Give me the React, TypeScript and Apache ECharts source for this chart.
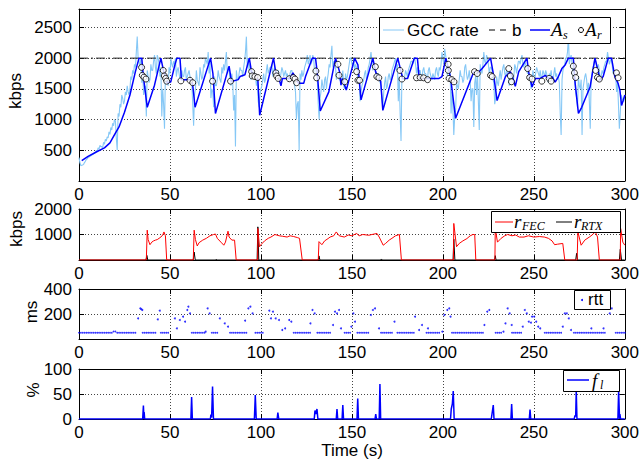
import React, { useEffect, useRef } from 'react';
import * as echarts from 'echarts';

const _ = null;

// GCC rate (kbps), one value per second, t = 0..300
const gccRate = [
  380,
  250, 260, 300, 350, 380, 400, 420, 440, 460, 480,
  520, 560, 540, 600, 650, 700, 760, 830, 900, 980,
  500, 1050, 1200, 1350, 1300, 1400, 1450, 1500, 1650, 1750,
  1850, 2350, 1950, 2000, 1800, 1500, 1050, 1700, 1650, 1800,
  1950, 1850, 2050, 1900, 1850, 1500, 850, 1600, 1550, 1750,
  1900, 1950, 2000, 1800, 1750, 1750, 1700, 1800, 1650, 1750,
  1700, 1600, 900, 1500, 1650, 1550, 1750, 1700, 1850, 1950,
  2100, 1950, 1500, 1200, 1550, 1650, 1700, 1600, 1750, 1800,
  2100, 1850, 1650, 1750, 1150, 560, 1650, 1750, 1800, 1700,
  1950, 2350, 2000, 1900, 1750, 1750, 1700, 1650, 1200, 1500,
  1650, 1600, 1800, 1750, 1850, 1900, 1800, 1750, 1800, 1700,
  1750, 1800, 1750, 1700, 1650, 1750, 1800, 1650, 1450, 1250,
  500, 1650, 1700, 1850, 1950, 1900, 2050, 1950, 2000, 1850,
  1650, 1000, 1450, 1550, 1650, 1500, 1750, 1850, 2200, 1950,
  1850, 1750, 1650, 1600, 1800, 1500, 1650, 1800, 2000, 1900,
  2000, 1900, 1750, 1650, 1450, 1600, 1750, 1650, 1850, 2000,
  1950, 1900, 1800, 1750, 1700, 1550, 1200, 1600, 1500, 1700,
  1650, 1800, 1900, 2000, 1900, 1700, 650, 1650, 1700, 1750,
  1800, 1900, 1950, 2000, 1900, 1850, 1800, 1700, 1800, 1750,
  1700, 1800, 1750, 1650, 1700, 1800, 1750, 1850, 1900, 2000,
  2150, 1950, 1850, 1750, 1450, 750, 1150, 1550, 1650, 1700,
  1600, 1850, 1750, 1700, 1650, 1500, 880, 1700, 1750, 830,
  1800, 1900, 1950, 2050, 1900, 1850, 1800, 1600, 1350, 1600,
  1700, 1650, 1850, 1750, 1800, 1700, 1650, 1600, 1700, 1850,
  1850, 1950, 2000, 1900, 1950, 1800, 1750, 1650, 1650, 1700,
  1750, 1800, 1700, 1650, 1800, 1700, 1750, 1600, 1700, 1650,
  1750, 1700, 1650, 1600, 750, 1800, 1900, 2000, 2350, 2000,
  1900, 1800, 1450, 1200, 1550, 1650, 1500, 1700, 1650, 1600,
  850, 1750, 1900, 1950, 1850, 1800, 1700, 1750, 1900, 1950,
  2000, 1950, 1900, 1800, 1700, 1600, 850, 1400, 1300, 1400,
];

// GCC rate (kbps) at the half seconds, t = 0.5..299.5
const gccRateHalf = [
  300, 255, 270, 320, 360, 390, 410, 430, 450, 500,
  540, 580, 560, 630, 680, 720, 800, 870, 940, 1000,
  700, 1100, 1250, 1400, 1250, 1450, 1550, 1400, 1700, 1800,
  1900, 2100, 2000, 1850, 1600, 1400, 1550, 1800, 1600, 1900,
  1800, 2050, 1750, 2000, 1700, 1050, 1250, 1750, 1650, 1850,
  2000, 1850, 1900, 1700, 1850, 1650, 1800, 1700, 1850, 1700,
  1800, 1650, 1250, 1400, 1800, 1600, 1850, 1650, 1900, 2000,
  1900, 1750, 1350, 1450, 1700, 1550, 1800, 1650, 1850, 1900,
  1950, 1750, 1800, 1550, 1600, 1400, 1800, 1650, 1850, 1800,
  1850, 2100, 1850, 1800, 1650, 1800, 1750, 1550, 1300, 1400,
  1550, 1750, 1650, 1900, 1800, 1850, 1700, 1850, 1700, 1800,
  1650, 1850, 1700, 1800, 1750, 1650, 1800, 1700, 1550, 1000,
  1300, 1750, 1800, 1750, 1900, 2050, 1950, 1900, 2050, 1750,
  1750, 1250, 1350, 1650, 1450, 1700, 1650, 1900, 2050, 1850,
  1900, 1650, 1750, 1650, 1600, 1550, 1750, 1700, 1900, 2000,
  1850, 1800, 1850, 1600, 1300, 1550, 1650, 1800, 1700, 1900,
  2100, 1800, 1850, 1650, 1750, 1600, 1350, 1450, 1700, 1550,
  1750, 1650, 1850, 1950, 1800, 1300, 1100, 1750, 1650, 1800,
  1700, 1850, 1950, 1900, 2000, 1750, 1700, 1800, 1650, 1850,
  1750, 1650, 1850, 1700, 1750, 1650, 1850, 1700, 1800, 2100,
  1900, 2050, 1700, 1800, 1100, 1200, 1050, 1600, 1500, 1800,
  1700, 1650, 1900, 1650, 1800, 1300, 1500, 1600, 1400, 1300,
  1900, 1750, 2100, 1900, 2000, 1750, 1850, 1650, 1250, 1700,
  1550, 1800, 1750, 1900, 1700, 1800, 1550, 1750, 1600, 1900,
  1750, 1950, 1900, 2050, 1850, 1900, 1750, 1650, 1500, 1800,
  1650, 1850, 1750, 1800, 1700, 1750, 1800, 1650, 1750, 1800,
  1600, 1850, 1750, 1700, 1100, 1650, 1850, 2000, 2100, 1900,
  2050, 1700, 1650, 1350, 1700, 1500, 750, 1600, 1750, 1450,
  1300, 1650, 1850, 2000, 1850, 1900, 1650, 1800, 1850, 1950,
  2100, 1900, 2000, 1750, 1800, 1450, 1250, 1100, 1350, 1300,
];

const bRate = 2000;

// A_s [time s, kbps]
const asCurve = [
  [1.5, 330], [5, 400], [10, 480], [14, 540], [17, 620], [20, 780], [22, 880], [25, 1120], [28, 1400], [31, 1780],
  [33, 2000], [34.5, 2000], [35.3, 1720], [37.5, 1200], [41.5, 1560], [45, 2000], [46.4, 1800], [48.5, 1600], [50.4, 1610],
  [52.8, 1900], [53.8, 2000], [55.5, 2000], [56.3, 1650], [61.5, 1650], [62.4, 1590], [63.8, 1200], [72.3, 2000], [73.6, 1750],
  [75, 1100], [82.5, 1870], [83.8, 1620], [87.5, 1650], [88.5, 1700], [91.2, 1730], [93.6, 2000], [94.8, 1780], [96.7, 1700],
  [98.3, 1660], [99.3, 1070], [106.9, 2000], [108.3, 1740], [110.2, 1640], [111, 1550], [111.8, 1670], [116, 1670], [117.6, 1760],
  [119.6, 1640], [120.8, 1590], [123.5, 1590], [124.5, 1700], [128.2, 2000], [130, 2000], [130.9, 1780], [132.6, 1140],
  [137.3, 1450], [141, 2000], [143.2, 1780], [144, 1560], [144.7, 1670], [146.9, 1480], [149.6, 1780], [151.5, 2000],
  [153.3, 1890], [155, 1320], [161.5, 2000], [163, 1780], [165.1, 1640], [165.8, 1630], [167, 1150], [175.2, 2000],
  [177, 1780], [177.9, 1670], [180.6, 1670], [184.3, 2000], [186, 2000], [187, 1670], [197.9, 1670], [199.5, 1700],
  [201.6, 2000], [202.5, 1900], [204.3, 1670], [205.2, 1450], [207, 1020], [212, 1400], [217, 1780], [218.9, 1750],
  [221.6, 1830], [226.2, 2000], [228, 1700], [229.8, 1310], [234.4, 1700], [237.1, 1780], [238.9, 1640], [239.8, 1540],
  [241.7, 1780], [246.2, 2000], [247.1, 1780], [249, 1530], [250.8, 1670], [253.5, 1670], [256.3, 1720], [258, 1670],
  [260, 1700], [261.7, 1610], [263.5, 1700], [265.4, 1830], [267.2, 1890], [269, 2000], [271.7, 2000], [272.7, 1590],
  [274.5, 1100], [276.3, 1200], [280.9, 1530], [283.6, 2000], [285.4, 1780], [286.3, 1640], [288.1, 1700], [290.9, 2000],
  [292.7, 2000], [294.5, 1700], [296.3, 1590], [297.3, 1480], [298.2, 1230], [299.1, 1310], [300, 1400],
];

// A_r markers [time s, kbps]
const arPoints = [
  [34.4, 1850], [34.8, 1720], [35.7, 1690], [36.8, 1660], [46.3, 1800], [46.9, 1710], [47.6, 1670], [48.2, 1625],
  [56, 1630], [61, 1640], [62.5, 1600], [73.4, 1625], [83.3, 1625], [94.9, 1780], [95.2, 1710], [96.7, 1700],
  [98.2, 1685], [108.2, 1760], [108.6, 1710], [109.5, 1670], [115.6, 1665], [117.8, 1685], [118.7, 1660], [119.6, 1600],
  [130.2, 1790], [130.6, 1680], [142.3, 1900], [142.9, 1720], [146, 1615], [152.6, 1780], [153.3, 1640], [154.2, 1640],
  [162.9, 1860], [163.7, 1700], [164.8, 1680], [176.4, 1800], [177.5, 1660], [185.5, 1680], [187.5, 1685], [189.4, 1680],
  [191.6, 1650], [202.9, 1900], [203, 1800], [203.4, 1670], [204.9, 1650], [206.1, 1615], [217.4, 1780], [218.9, 1750],
  [226.2, 1720], [227.1, 1700], [236.2, 1830], [237.1, 1710], [237.7, 1615], [246.6, 1830], [247.7, 1685], [249, 1660],
  [254.4, 1625], [258.4, 1670], [259.5, 1625], [271.7, 1870], [272.3, 1760], [273, 1685], [284, 1800], [285, 1685],
  [286, 1660], [295.4, 1760], [296.3, 1680],
];

// r_FEC [time s, kbps]
const rFec = [
  [0, 0], [37, 0], [37.5, 1170], [38, 800], [39, 600], [40, 700], [41, 750], [42, 780], [43, 800], [44, 850], [45, 900],
  [46, 980], [46.7, 1100], [47.5, 950], [48.2, 0],
  [62.8, 0], [63.3, 1170], [64, 800], [65, 550], [66, 680], [68, 780], [70, 850], [72, 950], [74, 1000], [75, 1020],
  [76, 850], [78, 700], [79.6, 580], [80.5, 700], [81.9, 1130], [82.5, 900], [84, 780], [85.5, 780], [86.4, 0],
  [98.2, 0], [98.3, 1236], [99.2, 520], [100, 600], [102, 750], [104, 850], [105.5, 900], [107.7, 1000], [110, 950],
  [112, 930], [114.4, 900], [116, 950], [118, 920], [120, 880], [121.2, 850], [122.7, 0],
  [131.5, 0], [131.9, 720], [133.5, 600], [135, 750], [136.9, 840], [138, 900], [140, 950], [141.4, 1100], [143, 950],
  [145.8, 900], [148, 980], [150, 950], [152.6, 1040], [154, 950], [156, 1000], [159.3, 970], [161, 1000], [163.8, 1040],
  [165, 900], [167.2, 580], [168.5, 650], [170.5, 780], [172, 850], [174, 950], [176.1, 1000], [177.2, 0],
  [205.8, 0], [206, 1434], [207.5, 520], [209, 650], [211, 750], [213.2, 840], [215, 950], [216.5, 1000], [217.5, 1000], [218.1, 0],
  [228.6, 0], [228.8, 1236], [230, 700], [232, 850], [234, 950], [235.6, 1000], [238, 950], [240, 980], [242, 900],
  [244.6, 900], [247, 950], [250, 900], [253, 920], [255.8, 900], [258, 850], [260, 750], [261.4, 600], [263, 620],
  [265.9, 650], [267, 0],
  [273.8, 0], [274.2, 1105], [276, 580], [278, 780], [280.5, 900], [282, 980], [283.8, 1105], [285, 900], [286, 0],
  [297.5, 0], [297.7, 1236], [298.9, 700], [300, 580],
];

// r_RTX [time s, kbps]
const rRtx = [
  [0, 0], [36.8, 0], [37.3, 180], [37.8, 0], [62.8, 0], [63.3, 310], [63.9, 0], [75, 0], [75.4, 30], [75.8, 0],
  [97.9, 0], [98.3, 1300], [98.8, 0], [131.5, 0], [131.9, 160], [132.4, 0], [165.8, 0], [166.2, 40], [166.6, 0],
  [205.6, 0], [206, 820], [206.6, 0], [228.4, 0], [228.8, 170], [229.2, 0], [273, 0], [273.5, 260], [274, 0],
  [297, 0], [297.5, 420], [298.2, 0], [300, 0],
];

// rtt baseline (ms), one value per second, t = 0..300
const rttBase = [
  50, 50, 50, 50, 50, 50, 50, 50, 50, 50,
  50, 50, 50, 50, 50, 50, 50, 50, 50, 60,
  60, 50, 50, 50, 50, 50, 50, 50, 50, 50,
  50, 50, _, _, _, 50, 50, 50, 50, 50,
  50, 50, 50, _, _, 50, 50, 50, 50, 50,
  _, _, _, _, _, _, _, _, _, _,
  _, _, 50, 50, 50, 50, 50, 50, 50, 50,
  _, _, _, 50, 50, 50, 50, _, _, _,
  _, _, _, 50, 50, 50, 50, 50, 50, 50,
  50, 50, 50, _, _, _, _, 50, 50, 50,
  50, 50, _, _, _, _, _, _, _, _,
  _, _, _, _, _, _, _, _, 50, 50,
  50, 50, 50, 50, 50, 50, 50, 50, _, _,
  _, 50, 50, 50, 50, 50, 50, 50, 50, _,
  _, _, _, _, _, _, 50, 50, 50, 50,
  _, _, _, 50, 50, 50, 50, 50, 50, 50,
  _, _, _, _, _, _, 50, 50, 50, 50,
  50, 50, 50, _, _, 50, 50, 50, 50, 50,
  50, 50, 50, 50, 50, _, _, _, _, _,
  _, 50, 50, 50, 50, 50, 50, 50, 50, _,
  _, _, _, _, _, 50, 50, 50, 50, 50,
  50, 50, 50, 50, 50, 50, 50, 50, 50, 50,
  50, 50, 50, _, _, _, _, _, _, 50,
  50, 50, 50, _, _, _, _, _, 50, 50,
  50, 50, 50, 50, _, _, _, _, _, _,
  _, _, _, _, _, _, 50, 50, 50, 50,
  50, 50, 50, 50, 50, 50, _, _, _, _,
  _, _, 50, 50, 50, 50, 50, 50, 50, 50,
  50, 50, 50, 50, 50, 50, 50, 50, 50, 50,
  _, _, _, _, _, 50, 50, 50, 50, 50,
  50,
];

// rtt excursions [time s, ms]
const rttHigh = [
  [32.5, 165], [33.7, 245], [34.2, 238], [34.8, 232], [43.3, 157], [44.4, 227], [52.7, 165], [53.8, 85], [55.4, 152],
  [57.2, 179], [58.3, 139], [59.5, 232], [60.1, 259], [61, 205], [69.6, 59], [70.7, 245], [71.8, 205], [77.4, 165],
  [80.1, 125], [81.9, 99], [91.3, 147], [93.1, 245], [94.2, 259], [95.4, 205], [104.6, 227], [105.5, 165], [106.6, 219],
  [108.1, 165], [109.9, 152], [111.7, 72], [113.3, 85], [115.5, 152], [116.7, 139], [127.2, 125], [128.3, 232], [129.5, 205],
  [139.6, 112], [140.7, 219], [141.8, 205], [142.9, 232], [144, 85], [149.7, 99], [150.8, 205], [151.7, 139], [160.4, 192],
  [161.5, 232], [162.7, 245], [164.9, 85], [173.4, 139], [184.7, 179], [186.9, 72], [188.5, 112], [191.8, 85], [199.7, 59],
  [200.8, 192], [202.4, 232], [203.5, 245], [204.2, 179], [222.8, 112], [224.4, 219], [225.5, 232], [233.3, 59], [234.4, 125],
  [235.6, 245], [236.7, 205], [237.8, 112], [243.9, 99], [245, 232], [246.1, 205], [247.2, 139], [248.4, 131], [249, 179],
  [250.2, 179], [251.3, 139], [252.4, 99], [253.5, 85], [265.9, 99], [267, 205], [268.1, 205], [269.2, 165], [270.4, 72],
  [281.6, 85], [288.3, 85], [291.7, 205], [292.8, 245],
];

// f_l loss (%) [time s, %]
const lossRate = [
  [0, 0], [35, 0], [35.4, 27], [35.7, 0], [35.8, 14], [36.1, 0], [61.5, 0], [61.9, 44], [62.3, 0], [72.2, 0], [72.5, 9],
  [72.9, 3], [73.4, 65], [73.9, 0], [96.4, 0], [96.9, 48], [97.4, 0], [108.9, 0], [109.3, 13], [109.8, 0], [129.3, 0],
  [129.7, 17], [130.2, 10], [130.8, 20], [131.3, 0], [141.4, 0], [141.8, 20], [142.2, 0], [144.6, 0], [145, 28], [145.4, 0],
  [152.8, 0], [153.2, 41], [153.6, 0], [162.7, 0], [163.1, 10], [163.5, 0], [165, 0], [165.4, 70], [165.8, 0], [204.2, 0],
  [204.6, 20], [205.2, 30], [205.7, 56], [206.2, 0], [226.6, 0], [227, 10], [227.7, 28], [228.1, 0], [237.4, 0], [237.8, 30],
  [238.2, 0], [247.5, 0], [247.9, 19], [248.3, 0], [272.2, 0], [272.6, 7], [273, 5], [273.3, 57], [273.7, 0], [296.2, 0],
  [296.6, 57], [297.1, 0], [297.3, 10], [297.7, 0], [300, 0],
];

const panelRanges = [
  { min: 0, max: 2800, interval: 500, showMin: false, showMax: false },
  { min: 0, max: 2000, interval: 1000, showMin: false, showMax: true },
  { min: 0, max: 400, interval: 200, showMin: false, showMax: true },
  { min: 0, max: 100, interval: 50, showMin: true, showMax: true },
];

const FONT = "'Liberation Sans', Arial, Helvetica, sans-serif";
const MATH = "'Liberation Serif', 'DejaVu Serif', serif";

export default function App() {
  const ref = useRef<HTMLDivElement>(null);

  useEffect(() => {
    document.body.style.margin = '0';
    if (!ref.current) return;
    const chart = echarts.init(ref.current, null, { renderer: 'svg' });

    const grids = [
      { left: 79, top: 9, width: 547, height: 172 },
      { left: 79, top: 209, width: 547, height: 51 },
      { left: 79, top: 289, width: 547, height: 50 },
      { left: 79, top: 369, width: 547, height: 50 },
    ];

    const plain = (v: number) => String(v);
    const dotted = { color: '#444', width: 1, type: [1, 2] as number[] };
    const xAxes: any[] = [];
    const yAxes: any[] = [];
    grids.forEach((g, i) => {
      xAxes.push({
        type: 'value', gridIndex: i, min: 0, max: 300, interval: 50,
        axisLine: { show: true, onZero: false, lineStyle: { color: '#000', width: 1 } },
        axisTick: { show: true, inside: true, length: 5, lineStyle: { color: '#000' } },
        axisLabel: { color: '#000', fontSize: 17, fontFamily: FONT, margin: 5, formatter: plain },
        splitLine: { show: true, lineStyle: dotted },
      });
      const r = panelRanges[i];
      yAxes.push({
        type: 'value', gridIndex: i, min: r.min, max: r.max, interval: r.interval,
        axisLine: { show: true, onZero: false, lineStyle: { color: '#000', width: 1 } },
        axisTick: { show: true, inside: true, length: 5, lineStyle: { color: '#000' } },
        axisLabel: {
          color: '#000', fontSize: 17, fontFamily: FONT, margin: 7,
          showMinLabel: r.showMin, showMaxLabel: r.showMax, formatter: plain,
        },
        splitLine: { show: true, lineStyle: dotted },
      });
    });
    grids.forEach((g, i) => {
      xAxes.push({
        type: 'value', gridIndex: i, position: 'top', min: 0, max: 300, interval: 50,
        axisLine: { show: true, onZero: false, lineStyle: { color: '#000', width: 1 } },
        axisTick: { show: true, inside: true, length: 5, lineStyle: { color: '#000' } },
        axisLabel: { show: false }, splitLine: { show: false },
      });
      const r = panelRanges[i];
      yAxes.push({
        type: 'value', gridIndex: i, position: 'right', min: r.min, max: r.max, interval: r.interval,
        axisLine: { show: true, onZero: false, lineStyle: { color: '#000', width: 1 } },
        axisTick: { show: true, inside: true, length: 5, lineStyle: { color: '#000' } },
        axisLabel: { show: false }, splitLine: { show: false },
      });
    });

    const gccPts: number[][] = [];
    gccRate.forEach((v, i) => {
      gccPts.push([i, v]);
      if (i < gccRateHalf.length) gccPts.push([i + 0.5, gccRateHalf[i]]);
    });

    const rttLowPts = rttBase
      .map((v, i) => (v === null ? null : [i, v]))
      .filter((p) => p !== null);

    const series: any[] = [
      {
        type: 'line', xAxisIndex: 0, yAxisIndex: 0, data: gccPts,
        showSymbol: false, lineStyle: { color: '#86c8f6', width: 1.1 }, z: 2,
      },
      {
        type: 'line', xAxisIndex: 0, yAxisIndex: 0, data: [[0, bRate], [300, bRate]],
        showSymbol: false, lineStyle: { color: '#222', width: 1, type: [9, 3, 2, 3] }, z: 3,
      },
      {
        type: 'line', xAxisIndex: 0, yAxisIndex: 0, data: asCurve,
        showSymbol: false, lineStyle: { color: '#0000ff', width: 1.5 }, z: 4,
      },
      {
        type: 'scatter', xAxisIndex: 0, yAxisIndex: 0, data: arPoints, symbol: 'circle', symbolSize: 6,
        itemStyle: { color: '#fff', borderColor: '#000', borderWidth: 1 }, z: 5,
      },
      {
        type: 'line', xAxisIndex: 1, yAxisIndex: 1, data: rRtx,
        showSymbol: false, lineStyle: { color: '#000', width: 1 }, z: 2,
      },
      {
        type: 'line', xAxisIndex: 1, yAxisIndex: 1, data: rFec,
        showSymbol: false, lineStyle: { color: '#ff0000', width: 1 }, z: 3,
      },
      {
        type: 'scatter', xAxisIndex: 2, yAxisIndex: 2, data: rttLowPts, symbol: 'circle', symbolSize: 1.8,
        itemStyle: { color: '#0000ff' },
      },
      {
        type: 'scatter', xAxisIndex: 2, yAxisIndex: 2, data: rttHigh, symbol: 'circle', symbolSize: 2,
        itemStyle: { color: '#0000ff' },
      },
      {
        type: 'line', xAxisIndex: 3, yAxisIndex: 3, data: lossRate,
        showSymbol: false, lineStyle: { color: '#0000ff', width: 1.5 },
      },
    ];

    const txt = (x: number, y: number, text: string, opts: any = {}) => ({
      type: 'text', x, y, z: 101, rotation: opts.rotation || 0,
      style: {
        text, fill: '#000', fontSize: opts.fontSize || 17, fontFamily: opts.fontFamily || FONT,
        fontStyle: opts.fontStyle || 'normal',
        textAlign: opts.align || 'left', textVerticalAlign: 'middle',
      },
    });
    const ln = (x1: number, y1: number, x2: number, y2: number, stroke: string, w = 1, dash?: number[]) => ({
      type: 'line', z: 101, shape: { x1, y1, x2, y2 }, style: { stroke, lineWidth: w, lineDash: dash },
    });
    const box = (x: number, y: number, w: number, h: number) => ({
      type: 'rect', z: 100, shape: { x, y, width: w, height: h }, style: { fill: '#fff', stroke: '#000', lineWidth: 1 },
    });
    const mathI = { fontFamily: MATH, fontStyle: 'italic', fontSize: 19 };
    const subI = { fontFamily: MATH, fontStyle: 'italic', fontSize: 12 };

    const graphic: any[] = [
      // axis names
      txt(15, 91, 'kbps', { rotation: Math.PI / 2, align: 'center' }),
      txt(16, 229, 'kbps', { rotation: Math.PI / 2, align: 'center' }),
      txt(31, 312, 'ms', { rotation: Math.PI / 2, align: 'center' }),
      txt(33, 390, '%', { rotation: Math.PI / 2, align: 'center' }),
      txt(352, 450, 'Time (s)', { align: 'center' }),
      // legend 1
      box(379.5, 17.5, 231, 26),
      ln(383, 30, 404, 30, '#86c8f6', 1),
      txt(407, 30, 'GCC rate'),
      ln(489, 30, 508, 30, '#000', 1, [6, 5]),
      txt(512, 30, 'b'),
      ln(530, 30, 550, 30, '#0000ff', 1.5),
      txt(551, 29, 'A', mathI),
      txt(563, 35, 's', subI),
      { type: 'circle', z: 101, shape: { cx: 581, cy: 30, r: 2.5 }, style: { fill: '#fff', stroke: '#000', lineWidth: 1 } },
      txt(585, 29, 'A', mathI),
      txt(597, 35, 'r', subI),
      // legend 2
      box(491.5, 211.5, 129, 21),
      ln(495, 222, 513, 222, '#ff0000', 1),
      txt(514, 221, 'r', mathI),
      txt(522, 226, 'FEC', subI),
      ln(556, 222, 572, 222, '#000', 1),
      txt(574, 221, 'r', mathI),
      txt(581, 226, 'RTX', subI),
      // legend 3
      box(574.5, 290.5, 36, 19),
      { type: 'circle', z: 101, shape: { cx: 582, cy: 300, r: 1 }, style: { fill: '#0000ff' } },
      txt(588, 299.5, 'rtt'),
      // legend 4
      box(563.5, 370.5, 56, 21),
      ln(567, 380, 589, 380, '#0000ff', 1.5),
      txt(592, 380, 'f', mathI),
      txt(600, 385, 'l', subI),
    ];

    chart.setOption({
      animation: false,
      backgroundColor: '#fff',
      grid: grids.map((g) => ({ ...g, show: false })),
      xAxis: xAxes,
      yAxis: yAxes,
      series,
      graphic,
    });

    return () => chart.dispose();
  }, []);

  return <div ref={ref} style={{ width: 642, height: 462 }} />;
}
